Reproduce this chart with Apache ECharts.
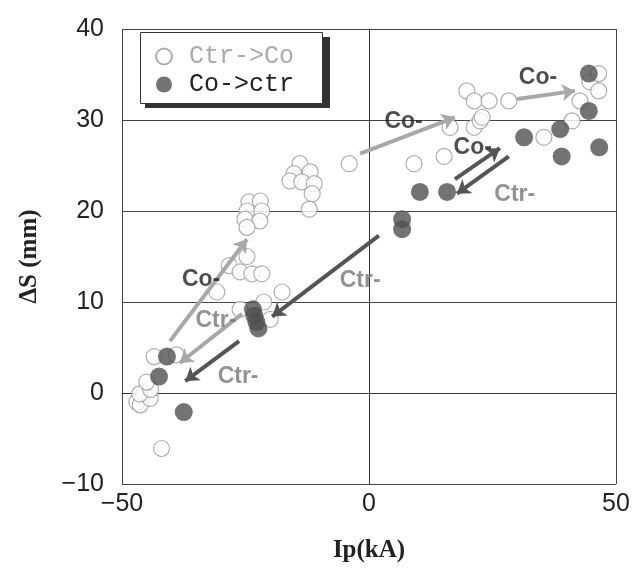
<!DOCTYPE html>
<html>
<head>
<meta charset="utf-8">
<script src="https://cdn.jsdelivr.net/npm/echarts@6/dist/echarts.min.js"></script>
<style>
html,body{margin:0;padding:0;background:#fff;}
#main{width:643px;height:568px;}
</style>
</head>
<body>
<div id="main"></div>
<script>
// Ctr->Co (open circles)
var ctrToCo = [
  [-47, -1], [-46.3, -1.3], [-45.5, 0], [-44.3, -0.6], [-46.4, -0.1], [-44.2, 0.4], [-45, 1.2],
  [-43.5, 4], [-39, 4.2], [-42, -6.1],
  [-24.3, 21], [-22, 21.1], [-24.7, 20], [-21.7, 20], [-25.1, 19.1], [-22.1, 18.9], [-24.7, 18.2],
  [-24.7, 15], [-28.3, 14], [-26.1, 13.3], [-23.7, 13.1], [-21.7, 13.1],
  [-30.8, 11.1], [-17.6, 11.1], [-21.3, 10], [-26.1, 9.2], [-20, 8.1],
  [-14, 25.2], [-15.2, 24.1], [-11.9, 24.3], [-16, 23.3], [-13.6, 23.2], [-11.1, 23],
  [-11.5, 21.9], [-12.1, 20.2], [-4, 25.2],
  [9.1, 25.2], [15.2, 26], [16.4, 29.2], [21.3, 29.2], [22.5, 29.9], [22.9, 30.3],
  [19.8, 33.2], [21.3, 32.1], [24.3, 32.1], [28.3, 32.1],
  [35.4, 28.1], [41.1, 29.9], [42.7, 32.1], [44.7, 34.2], [46.5, 35.1], [46.5, 33.2]
];
// Co->ctr (filled circles)
var coToCtr = [
  [-40.9, 4], [-42.5, 1.8], [-37.5, -2.1],
  [-23.5, 9.2], [-23.2, 8.5], [-22.8, 7.8], [-22.4, 7.1],
  [6.7, 19.1], [6.7, 18],
  [10.3, 22.1], [15.8, 22.1],
  [31.4, 28.1], [38.7, 29], [44.5, 31], [44.5, 35.1], [39, 26], [46.6, 27]
];
// annotation arrows: [start, end] in data units
var coArrows = [
  [[-1.8, 26.3], [17.4, 30.3]],
  [[30, 32.3], [41.7, 33.2]],
  [[-40.3, 5.7], [-24.7, 16.9]]
];
var coArrowsDark = [
  [[17.4, 23.5], [26.5, 26.9]]
];
var ctrArrows = [
  [[28.3, 26], [17.8, 21.9]],
  [[2, 17.3], [-19.6, 8.4]],
  [[-26.3, 5.7], [-37.2, 1.3]]
];
var ctrArrowsLight = [
  [[-25.7, 8.7], [-38.3, 3.3]]
];
var coLabels = [[7, 29.8], [34.2, 34.6], [-34, 12.5], [21, 27]];
var ctrLabels = [[29.5, 21.8], [-1.8, 12.3], [-31, 7.9], [-26.5, 1.8]];

var myChart = echarts.init(document.getElementById('main'));

function arrowData(list, color) {
  return list.map(function (a) {
    return { coords: a, lineStyle: { color: color } };
  });
}
function labelSeries(list, color) {
  return {
    type: 'scatter',
    symbolSize: 1,
    itemStyle: { color: 'rgba(0,0,0,0)' },
    z: 10,
    silent: true,
    label: {
      show: true,
      position: 'inside',
      formatter: color === '#222' ? 'Co-' : 'Ctr-',
      fontFamily: 'Liberation Sans',
      fontWeight: 'bold',
      fontSize: 23,
      color: color
    },
    data: list
  };
}

var option = {
  backgroundColor: '#fff',
  animation: false,
  grid: { left: 122, right: 27, top: 29, bottom: 84 },
  graphic: [
    { type: 'rect', z: 3, shape: { x: 145, y: 37, width: 185, height: 71 }, style: { fill: '#333' } },
    { type: 'rect', z: 3, shape: { x: 140.5, y: 32.5, width: 182, height: 71 }, style: { fill: '#fff', stroke: '#333', lineWidth: 1 } }
  ],
  legend: {
    left: 140,
    top: 32,
    orient: 'vertical',
    padding: [12, 10, 6, 15],
    itemGap: 3,
    itemWidth: 40,
    itemHeight: 16,
    z: 5,
    textStyle: { fontFamily: 'Liberation Mono', fontSize: 25 },
    data: [
      { name: 'Ctr->Co', textStyle: { color: '#aaa' } },
      { name: 'Co->ctr', textStyle: { color: '#222' } }
    ]
  },
  xAxis: {
    type: 'value',
    min: -50,
    max: 50,
    interval: 50,
    name: 'Ip(kA)',
    nameLocation: 'middle',
    nameGap: 54,
    nameTextStyle: { fontFamily: 'Liberation Serif', fontWeight: 'bold', fontSize: 25, color: '#222' },
    axisLine: { show: true, lineStyle: { color: '#333', width: 1 } },
    axisTick: { show: false },
    axisLabel: {
      margin: 8,
      fontFamily: 'Liberation Sans',
      fontSize: 25,
      color: '#222',
      formatter: function (v) { return String(v).replace('-', '\u2212'); }
    },
    splitLine: { show: true, lineStyle: { color: '#444', width: 1 } }
  },
  yAxis: {
    type: 'value',
    min: -10,
    max: 40,
    interval: 10,
    name: '\u0394S (mm)',
    nameLocation: 'middle',
    nameGap: 80,
    nameRotate: 90,
    nameTextStyle: { fontFamily: 'Liberation Serif', fontWeight: 'bold', fontSize: 25, color: '#222' },
    axisLine: { show: true, lineStyle: { color: '#333', width: 1 } },
    axisTick: { show: false },
    axisLabel: {
      margin: 18,
      fontFamily: 'Liberation Sans',
      fontSize: 25,
      color: '#222',
      formatter: function (v) { return String(v).replace('-', '\u2212'); }
    },
    splitLine: { show: true, lineStyle: { color: '#444', width: 1 } }
  },
  series: [
    {
      name: 'Ctr->Co',
      type: 'scatter',
      symbolSize: 16,
      itemStyle: { color: '#fff', borderColor: '#9a9a9a', borderWidth: 1.2 },
      z: 2,
      data: ctrToCo
    },
    {
      name: 'Co->ctr',
      type: 'scatter',
      symbolSize: 18,
      itemStyle: { color: '#505050' },
      z: 3,
      data: coToCtr
    },
    {
      type: 'lines',
      coordinateSystem: 'cartesian2d',
      symbol: ['none', 'arrow'],
      symbolSize: 13,
      z: 5,
      silent: true,
      lineStyle: { width: 4, opacity: 1 },
      data: arrowData(coArrows, '#a8a8a8')
        .concat(arrowData(ctrArrowsLight, '#a8a8a8'))
        .concat(arrowData(coArrowsDark, '#555'))
        .concat(arrowData(ctrArrows, '#555'))
    },
    labelSeries(coLabels, '#222'),
    labelSeries(ctrLabels, '#777')
  ]
};
myChart.setOption(option);
</script>
</body>
</html>
